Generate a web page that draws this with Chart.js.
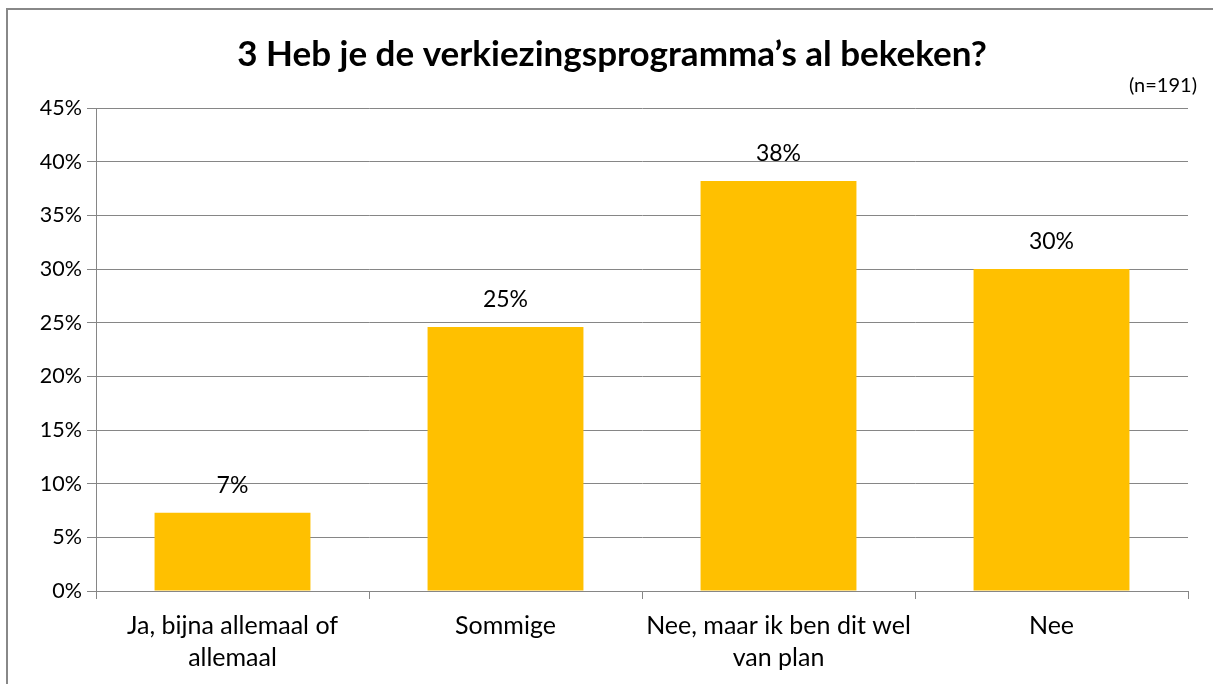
<!DOCTYPE html>
<html>
<head>
<meta charset="utf-8">
<script src="https://cdn.jsdelivr.net/npm/chart.js@4/dist/chart.umd.min.js"></script>
<style>
  html, body { margin: 0; padding: 0; background: #fff; overflow: hidden; }
  #wrap { position: relative; width: 1213px; height: 684px; }
  #frame { position: absolute; left: 6px; top: 8px; width: 1300px; height: 800px; border: 2px solid #888; box-sizing: border-box; }
  canvas { position: absolute; left: 0; top: 0; }
</style>
</head>
<body>
<div id="wrap">
  <div id="frame"></div>
  <canvas id="c" width="1213" height="684"></canvas>
</div>
<script>
const titleText = "3 Heb je de verkiezingsprogramma\u2019s al bekeken?";
const subtitleText = "(n=191)";
const categories = [
  ["Ja, bijna allemaal of", "allemaal"],
  ["Sommige"],
  ["Nee, maar ik ben dit wel", "van plan"],
  ["Nee"]
];
const values = [7.3, 24.6, 38.2, 30.0];
const yMin = 0, yMax = 45, yStep = 5;

const FONT = "Lato, 'Open Sans', sans-serif";
const GRID = "#868686";

const dataLabels = {
  id: "dataLabels",
  afterDatasetsDraw(chart) {
    const ctx = chart.ctx;
    const meta = chart.getDatasetMeta(0);
    ctx.save();
    ctx.font = "23px " + FONT;
    ctx.fillStyle = "#000";
    ctx.textAlign = "center";
    ctx.textBaseline = "middle";
    meta.data.forEach((bar, i) => {
      ctx.fillText(Math.round(values[i]) + "%", bar.x, bar.y - 27);
    });
    ctx.restore();
  }
};

const sampleNote = {
  id: "sampleNote",
  afterDraw(chart) {
    const ctx = chart.ctx;
    ctx.save();
    ctx.font = "20px " + FONT;
    ctx.fillStyle = "#000";
    ctx.textAlign = "right";
    ctx.textBaseline = "middle";
    ctx.fillText(subtitleText, 1197, 86);
    ctx.restore();
  }
};

new Chart(document.getElementById("c"), {
  type: "bar",
  data: {
    labels: categories,
    datasets: [{
      data: values,
      backgroundColor: "#FFC000",
      borderWidth: 0,
      barPercentage: 0.571,
      categoryPercentage: 1.0
    }]
  },
  options: {
    responsive: false,
    devicePixelRatio: 1,
    animation: false,
    layout: { padding: { left: 36, right: 25, top: 0, bottom: 0 } },
    plugins: {
      legend: { display: false },
      tooltip: { enabled: false },
      title: {
        display: true,
        text: titleText,
        color: "#000",
        font: { family: FONT, size: 35, weight: "bold", lineHeight: 1.2 },
        padding: { top: 34, bottom: 32 }
      }
    },
    scales: {
      x: {
        offset: true,
        grid: { display: true, drawOnChartArea: false, drawTicks: true, tickLength: 8, color: GRID, offset: true },
        border: { display: true, color: GRID, width: 1 },
        ticks: { color: "#000", font: { family: FONT, size: 25, lineHeight: 1.28 }, padding: 11, maxRotation: 0, autoSkip: false },
        afterFit(scale) { scale.height = 93; }
      },
      y: {
        min: yMin,
        max: yMax,
        grid: { color: GRID, lineWidth: 1, drawTicks: true, tickLength: 9 },
        border: { display: true, color: GRID, width: 1 },
        ticks: { stepSize: yStep, color: "#000", font: { family: FONT, size: 21.5 }, padding: 5, callback: v => v + "%" },
        afterFit(scale) { scale.width = 60; }
      }
    }
  },
  plugins: [dataLabels, sampleNote]
});
</script>
</body>
</html>
